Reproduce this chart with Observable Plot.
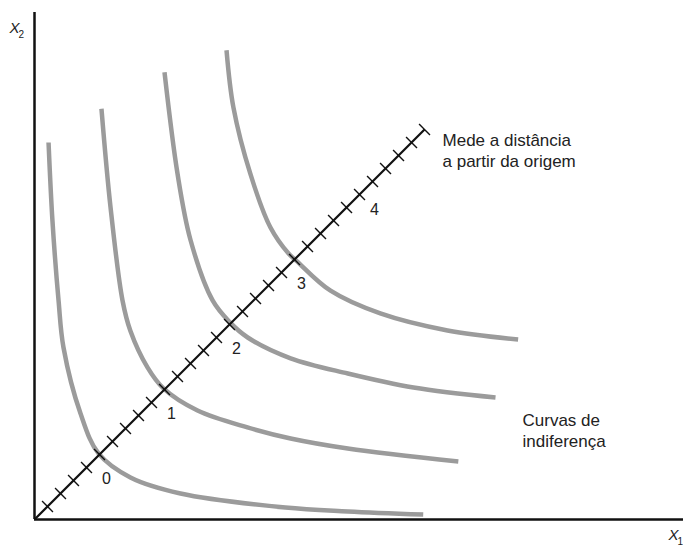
<!DOCTYPE html>
<html>
<head>
<meta charset="utf-8">
<script src="https://cdn.jsdelivr.net/npm/d3@7"></script>
<script src="https://cdn.jsdelivr.net/npm/@observablehq/plot@0.6"></script>
<style>
  html, body { margin: 0; padding: 0; background: #fff; }
  #chart svg { display: block; }
</style>
</head>
<body>
<div id="chart"></div>
<script>
// Indifference curves, in units of one tick along the 45° ray
const curve0 = [[1.08,29.0],[1.38,23.0],[1.85,16.85],[2.23,13.23],[3.54,8.15],[4.92,5.08],[7.38,3.23],[11.23,2.0],[19.3,0.92],[24.1,0.62],[29.9,0.38]];
const curve1 = [[5.15,31.6],[5.85,24.0],[6.77,16.85],[7.38,14.5],[8.69,11.7],[9.92,10.08],[12.54,8.38],[16.38,7.08],[19.7,6.23],[24.1,5.46],[32.6,4.46]];
const curve2 = [[10.0,34.4],[11.0,26.6],[12.0,21.5],[13.7,16.85],[15.0,15.2],[16.4,14.0],[19.7,12.4],[24.1,11.23],[29.15,10.15],[35.46,9.38]];
const curve3 = [[14.77,36.1],[15.3,31.7],[16.6,26.6],[18.15,22.46],[19.54,20.46],[20.15,19.9],[22.77,17.6],[26.6,15.85],[31.77,14.54],[37.2,13.85]];
const curves = [curve0, curve1, curve2, curve3];

// Ray from the origin and its tick marks
const rayEnd = 30;
const rayTicks = d3.range(1, rayEnd + 1);
const tickHalf = 0.42;

// Level labels placed at the ticks where the ray meets each curve
const levelTicks = [5, 10, 15, 20];
const levelLabels = ["0", "1", "2", "3"];
const upperTick = 25;
const upperLabel = "4";

const rayNote = "Mede a distância\na partir da origem";
const curveNote = "Curvas de\nindiferença";

const font = "'Liberation Sans', Arial, Helvetica, sans-serif";

const lines = curves.map(c => Plot.line(c, {
  x: d => d[0], y: d => d[1],
  stroke: "#9b9b9b", strokeWidth: 4.5, curve: "catmull-rom", strokeLinecap: "butt"
}));

// Axis name made of an italic letter and a smaller subscript digit
function axisName(anchor, letter, sub, dx, dy) {
  return [
    Plot.text([letter], {frameAnchor: anchor, dx, dy, fontSize: 15, fontStyle: "italic", fill: "#222", textAnchor: "start", lineAnchor: "top"}),
    Plot.text([sub], {frameAnchor: anchor, dx: dx + 9, dy: dy + 8, fontSize: 10, fill: "#222", textAnchor: "start", lineAnchor: "top"})
  ];
}

const chart = Plot.plot({
  width: 683,
  height: 548,
  marginLeft: 34,
  marginRight: 0,
  marginTop: 12,
  marginBottom: 29,
  x: {domain: [0, 49.92], axis: null},
  y: {domain: [0, 39], axis: null},
  style: {fontFamily: font, background: "#fff", overflow: "visible"},
  marks: [
    ...lines,
    // ray and ticks
    Plot.link([0], {x1: 0, y1: 0, x2: rayEnd, y2: rayEnd, stroke: "#111", strokeWidth: 2.2}),
    Plot.link(rayTicks, {x1: d => d - tickHalf, y1: d => d + tickHalf, x2: d => d + tickHalf, y2: d => d - tickHalf, stroke: "#111", strokeWidth: 1.4}),
    Plot.text(levelTicks, {x: d => d, y: d => d, text: (d, i) => levelLabels[i], dx: 7, dy: 24, fontSize: 16, fill: "#222"}),
    Plot.text([upperTick], {x: d => d, y: d => d, text: () => upperLabel, dx: 15, dy: 15, fontSize: 16, fill: "#222"}),
    // axes
    Plot.ruleX([0], {stroke: "#111", strokeWidth: 2.5}),
    Plot.ruleY([0], {stroke: "#111", strokeWidth: 2.5}),
    // axis names
    ...axisName("top-left", "X", "2", -25, 10),
    ...axisName("bottom-right", "X", "1", -15, 10),
    // notes
    Plot.text([rayEnd], {x: d => d, y: d => d, text: () => rayNote, dx: 18, dy: 20, fontSize: 17, lineHeight: 1.25, textAnchor: "start", lineAnchor: "middle", fill: "#222"}),
    Plot.text([curve2[curve2.length - 1]], {x: d => d[0], y: d => d[1], text: () => curveNote, dx: 27, dy: 32, fontSize: 17, lineHeight: 1.25, textAnchor: "start", lineAnchor: "middle", fill: "#222"})
  ]
});

document.getElementById("chart").append(chart);
</script>
</body>
</html>
